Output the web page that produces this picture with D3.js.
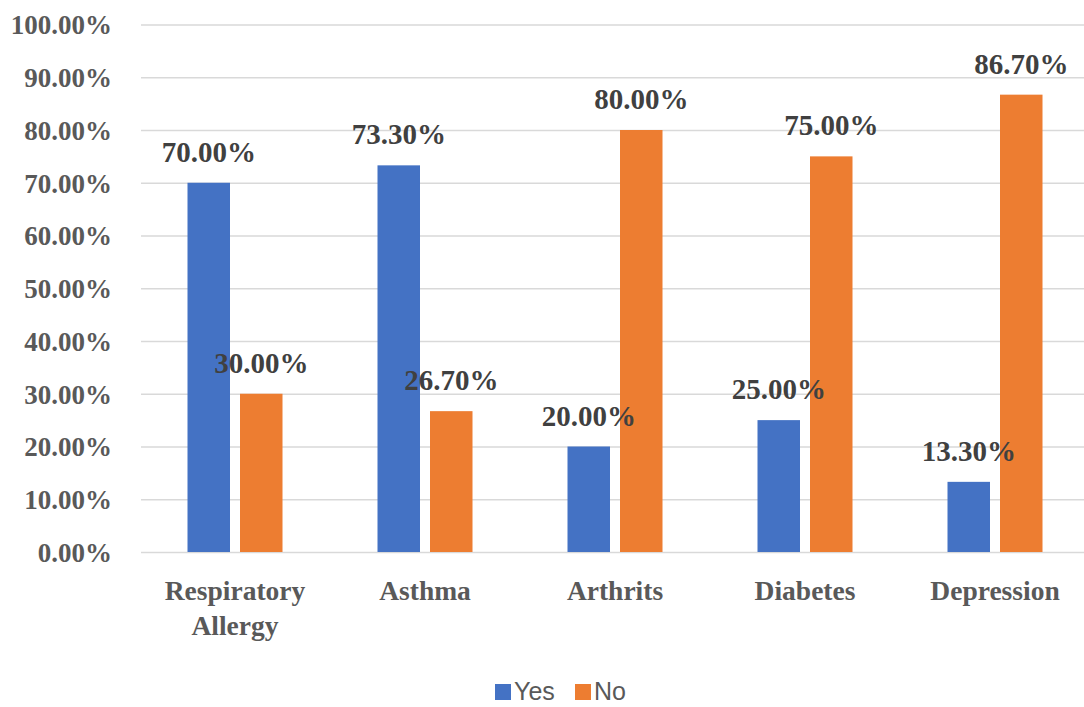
<!DOCTYPE html>
<html>
<head>
<meta charset="utf-8">
<script src="https://cdn.jsdelivr.net/npm/d3@7"></script>
<style>
  html, body { margin: 0; padding: 0; background: #ffffff; }
  svg { display: block; }
  .serif { font-family: "Liberation Serif", "Times New Roman", serif; font-weight: bold; }
</style>
</head>
<body>
<svg id="chart" width="1084" height="707"></svg>
<script>
// Survey responses per condition (percent)
const categories = ["Respiratory Allergy", "Asthma", "Arthrits", "Diabetes", "Depression"];
const seriesNames = ["Yes", "No"];
const yesValues = [70.00, 73.30, 20.00, 25.00, 13.30];
const noValues = [30.00, 26.70, 80.00, 75.00, 86.70];
const yTicks = [0, 10, 20, 30, 40, 50, 60, 70, 80, 90, 100];
const colors = ["#4472C4", "#ED7D31"];

const W = 1084, H = 707;
const plot = { left: 141, right: 1090, top: 24.5, bottom: 552 };

const svg = d3.select("#chart");

const y = d3.scaleLinear().domain([0, 100]).range([plot.bottom, plot.top]);
const x0 = d3.scaleBand().domain(categories).range([140, 1090])
  .paddingInner(0.5).paddingOuter(0.25);
const x1 = d3.scaleBand().domain(seriesNames).range([0, x0.bandwidth()])
  .paddingInner(10 / 52.5).paddingOuter(0);
const color = d3.scaleOrdinal().domain(seriesNames).range(colors);

// Horizontal gridlines
const grid = svg.append("g")
  .attr("transform", `translate(${plot.left},0)`)
  .call(d3.axisLeft(y).tickValues(yTicks).tickSize(-(W - plot.left)).tickFormat(""));
grid.select(".domain").remove();
grid.selectAll(".tick line").attr("stroke", "#d9d9d9").attr("stroke-width", 1.6);

// Y axis labels
const yAxis = svg.append("g")
  .attr("class", "serif")
  .attr("transform", `translate(${plot.left},0)`)
  .call(d3.axisLeft(y).tickValues(yTicks).tickSize(0).tickPadding(29)
    .tickFormat(d => d3.format(".2f")(d) + "%"));
yAxis.select(".domain").remove();
yAxis.selectAll(".tick text")
  .attr("fill", "#595959")
  .style("font-size", "27px")
  .style("font-family", "Liberation Serif, serif")
  .style("font-weight", "bold")
  .attr("dy", "0.35em");

// Category axis
const xAxis = svg.append("g")
  .attr("transform", `translate(0,${plot.bottom})`)
  .call(d3.axisBottom(x0).tickSize(0).tickPadding(0));
xAxis.select(".domain").remove();
xAxis.selectAll(".tick text").each(function (d) {
  const t = d3.select(this);
  const words = d.split(" ");
  t.text(null)
    .attr("y", 0).attr("dy", null)
    .attr("fill", "#595959")
    .style("font-size", "27.5px")
    .style("font-family", "Liberation Serif, serif")
    .style("font-weight", "bold");
  words.forEach((w, i) => {
    t.append("tspan").attr("x", 0).attr("y", 48 + i * 35).text(w);
  });
});

// Bars
const rows = categories.map((c, i) => ({ category: c, values: [yesValues[i], noValues[i]] }));
const groups = svg.append("g").selectAll("g")
  .data(rows).join("g")
  .attr("transform", d => `translate(${x0(d.category)},0)`);

groups.selectAll("rect")
  .data(d => d.values.map((v, k) => ({ key: seriesNames[k], value: v })))
  .join("rect")
  .attr("x", d => x1(d.key))
  .attr("y", d => y(d.value))
  .attr("width", x1.bandwidth())
  .attr("height", d => y(0) - y(d.value))
  .attr("fill", d => color(d.key));

// Value labels
groups.selectAll("text")
  .data(d => d.values.map((v, k) => ({ key: seriesNames[k], value: v })))
  .join("text")
  .attr("class", "serif")
  .attr("x", d => x1(d.key) + x1.bandwidth() / 2)
  .attr("y", d => y(d.value) - 21)
  .attr("text-anchor", "middle")
  .attr("fill", "#404040")
  .style("font-size", "29px")
  .text(d => d3.format(".2f")(d.value) + "%");

// Legend
const legendX = [495, 575];
const legend = svg.append("g").selectAll("g")
  .data(seriesNames).join("g")
  .attr("transform", (d, i) => `translate(${legendX[i]},684)`);
legend.append("rect")
  .attr("width", 16).attr("height", 16)
  .attr("fill", d => color(d));
legend.append("text")
  .attr("x", 19).attr("y", 16)
  .attr("fill", "#595959")
  .style("font-family", "'Liberation Sans', Arial, sans-serif")
  .style("font-size", "25px")
  .text(d => d);
</script>
</body>
</html>
